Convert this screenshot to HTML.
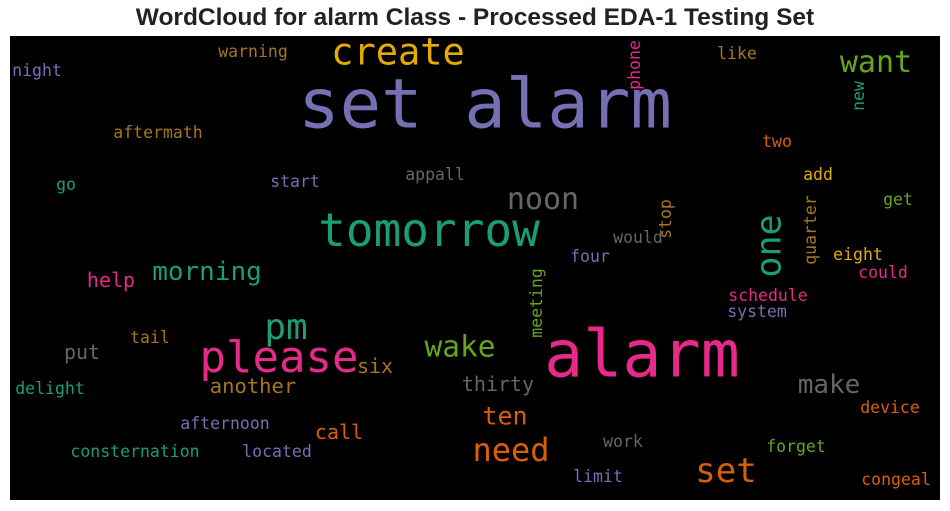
<!DOCTYPE html>
<html><head><meta charset="utf-8"><style>
html,body{margin:0;padding:0;background:#fff;}
#wrap{position:relative;width:950px;height:511px;overflow:hidden;background:#fff;}
#title{position:absolute;left:0;width:950px;top:4px;text-align:center;font:bold 24.5px "Liberation Sans",sans-serif;color:#222;}
#cloud{position:absolute;left:10px;top:36px;width:930px;height:464px;background:#000;}
.w{position:absolute;font-family:"DejaVu Sans Mono","Liberation Mono",monospace;line-height:1;white-space:nowrap;transform:translate(-50%,-50%);}
.v{transform:translate(-50%,-50%) rotate(-90deg);}
</style></head><body>
<div id="wrap">
<div id="title">WordCloud for alarm Class - Processed EDA-1 Testing Set</div>
<div id="cloud"></div>
</div>
<script>
const words = ["set alarm","alarm","tomorrow","please","create","want","one","noon","morning","pm","wake","need","set","make","ten","thirty","another","six","help","put","call","tail","delight","afternoon","consternation","located","work","limit","forget","device","congeal","schedule","system","could","eight","four","would","stop","quarter","meeting","add","get","two","appall","start","go","aftermath","night","warning","like","phone","new"];
const sizes = [69,65,46,44,37,30,35,30,26,36,29.5,32,34,26,25,20,20.5,20,20,20,20,16.5,16.5,16.5,16.5,16.5,16.5,16.5,16.5,16.5,16.5,16.5,16.5,16.5,16.5,16.5,16.5,16.5,16.5,16.5,16.5,16.5,16.5,16.5,16.5,16.5,16.5,16.5,16.5,16.5,16.5,16.5];
const colors = ["#7570b3","#e7298a","#1b9e77","#e7298a","#e6ab02","#66a61e","#1b9e77","#666666","#1b9e77","#1b9e77","#66a61e","#d95f02","#d95f02","#666666","#d95f02","#666666","#a6761d","#a6761d","#e7298a","#666666","#d95f02","#a6761d","#1b9e77","#7570b3","#1b9e77","#7570b3","#666666","#7570b3","#66a61e","#d95f02","#d95f02","#e7298a","#7570b3","#e7298a","#e6ab02","#7570b3","#666666","#a6761d","#a6761d","#66a61e","#e6ab02","#66a61e","#d95f02","#666666","#7570b3","#1b9e77","#a6761d","#7570b3","#a6761d","#a6761d","#e7298a","#1b9e77"];
const centerX = [485,642,429,279,398,876,770,543,207,286,460,511,726,829,505,498,253,375,111,82,339,150,50,225,135,277,623,598,796,890,896,768,757,883,858,590,638,666,811,537,818,898,777,435,295,66,158,37,253,737,635,859];
const centerY = [105,355,230,358,52,63,246,200,272,328,347,450,471,385,416,384,386,366,280,352,432,338,389,424,452,452,442,477,447,408,480,296,312,273,255,257,238,219,230,303,175,200,142,175,182,185,133,71,52,54,65,96];
const vertical = ["one","stop","quarter","meeting","phone","new"];
const cloud = document.getElementById('cloud');
for (let i = 0; i < words.length; i++) {
  const el = document.createElement('div');
  el.className = 'w' + (vertical.includes(words[i]) ? ' v' : '');
  el.textContent = words[i];
  el.style.left = (centerX[i] - 10) + 'px';
  el.style.top = (centerY[i] - 36) + 'px';
  el.style.fontSize = sizes[i] + 'px';
  el.style.color = colors[i];
  
  
  cloud.appendChild(el);
}
</script>
</body></html>
